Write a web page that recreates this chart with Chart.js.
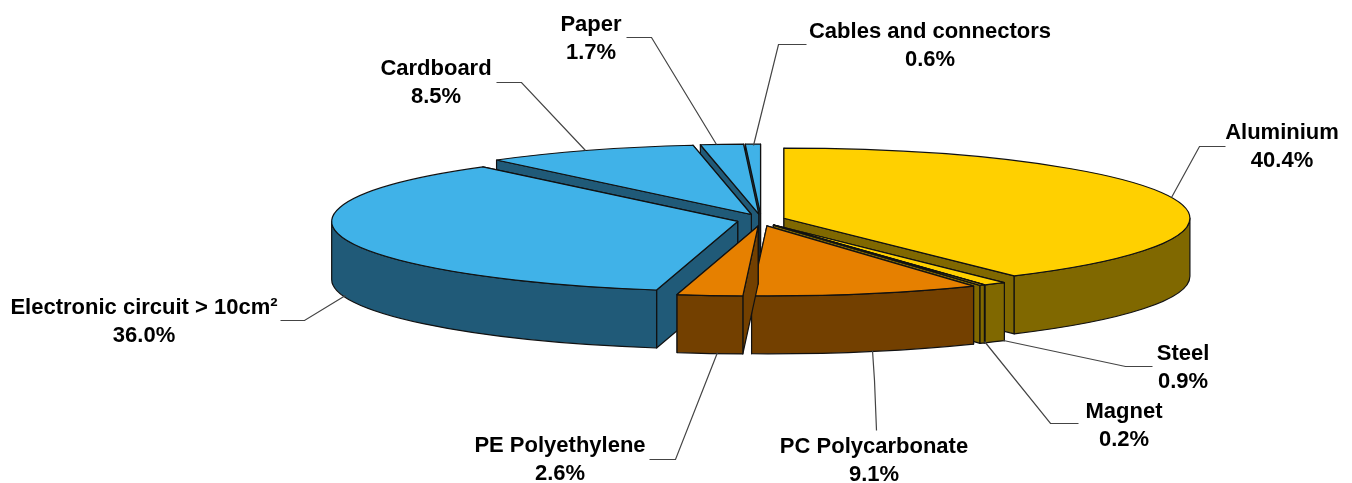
<!DOCTYPE html>
<html>
<head>
<meta charset="utf-8">
<title>Material shares</title>
<script src="https://cdn.jsdelivr.net/npm/chart.js@4/dist/chart.umd.js"></script>
<style>
  html,body{margin:0;padding:0;background:#fff;overflow:hidden}
  canvas{display:block}
</style>
</head>
<body>
<canvas id="pie" width="1352" height="483"></canvas>
<script>
// Data (clockwise from 12 o'clock)
const categories=['Aluminium','Steel','Magnet','PC Polycarbonate','PE Polyethylene','Electronic circuit > 10cm²','Cardboard','Paper','Cables and connectors'];
const shares=[40.4,0.9,0.2,9.1,2.6,36.0,8.5,1.7,0.6];

// Colours
const Y='#ffd000',Y2='#806800',O='#e68000',O2='#734000',B='#40b2e8',B2='#205a78';
const topColors=[Y,Y,Y,O,O,B,B,B,B];
const sideColors=[Y2,Y2,Y2,O2,O2,B2,B2,B2,B2];

// Fake 3D: where the pie ends up on the page
const PIE={cx:761,cy:220,rx:406,ry:70,depth:58,explodeX:24,explodeY:6};

// Label text centres and leader lines, same order as categories
const labelPos=[[1282,133],[1183,354],[1124,412],[874,447],[560,446],[144,308],[436,69],[591,25],[930,32]];
const leaders=[
  [[1225,146],[1199,146],[1171,197]],
  [[1152,366],[1125,366],[1003,340]],
  [[1078,423],[1050,423],[984,341]],
  [[876,430],[874,380],[872,350]],
  [[649,459],[675,459],[717,352]],
  [[280,320],[304,320],[345,295]],
  [[496,82],[521,82],[585,150]],
  [[626,37],[651,37],[716,144]],
  [[806,44],[778,44],[753,145]]
];

const pie3d={
  id:'pie3d',
  beforeDatasetsDraw(chart){
    const ctx=chart.ctx, arcs=chart.getDatasetMeta(0).data;
    const R=arcs[0].outerRadius, sx=PIE.rx/R, sy=PIE.ry/R;
    const mid=a=>(a.startAngle+a.endAngle)/2;

    // back slices first
    const order=arcs.map((a,i)=>i).sort((p,q)=>Math.sin(mid(arcs[p]))-Math.sin(mid(arcs[q])));

    order.forEach(i=>{
      const a=arcs[i];
      // not the arc's own offset option: ArcElement scales that by sweep, here all slices move the same
      const ax=PIE.cx+Math.cos(mid(a))*PIE.explodeX, ay=PIE.cy+Math.sin(mid(a))*PIE.explodeY;
      const rim=t=>[ax+PIE.rx*Math.cos(t),ay+PIE.ry*Math.sin(t)];
      const d=PIE.depth;
      ctx.save();
      ctx.lineWidth=1.2; ctx.strokeStyle='#111'; ctx.lineJoin='round';
      ctx.fillStyle=sideColors[i];

      // cut faces
      const face=t=>{
        const p=rim(t);
        ctx.beginPath();
        ctx.moveTo(ax,ay); ctx.lineTo(p[0],p[1]); ctx.lineTo(p[0],p[1]+d); ctx.lineTo(ax,ay+d);
        ctx.closePath(); ctx.fill(); ctx.stroke();
      };
      [a.startAngle,a.endAngle].sort((p,q)=>Math.sin(p)-Math.sin(q)).forEach(face);

      // outer wall, only the part that looks at the viewer
      [[0,Math.PI],[2*Math.PI,3*Math.PI]].forEach(w=>{
        const s=Math.max(a.startAngle,w[0]), e=Math.min(a.endAngle,w[1]);
        if(e<=s) return;
        ctx.beginPath();
        ctx.ellipse(ax,ay,PIE.rx,PIE.ry,0,s,e);
        ctx.ellipse(ax,ay+d,PIE.rx,PIE.ry,0,e,s,true);
        ctx.closePath(); ctx.fill(); ctx.stroke();
      });

      // top face: the library's own arc, squashed
      ctx.save();
      ctx.translate(ax,ay); ctx.scale(sx,sy); ctx.translate(-a.x,-a.y);
      a.draw(ctx);
      ctx.restore();
      const p=rim(a.startAngle);
      ctx.beginPath();
      ctx.moveTo(ax,ay); ctx.lineTo(p[0],p[1]);
      ctx.ellipse(ax,ay,PIE.rx,PIE.ry,0,a.startAngle,a.endAngle);
      ctx.closePath(); ctx.stroke();
      ctx.restore();
    });
    return false;
  },
  afterDraw(chart){
    const ctx=chart.ctx;
    ctx.save();
    ctx.strokeStyle='#444'; ctx.lineWidth=1.2;
    leaders.forEach(l=>{
      ctx.beginPath();
      l.forEach((p,j)=>j?ctx.lineTo(p[0]+.5,p[1]+.5):ctx.moveTo(p[0]+.5,p[1]+.5));
      ctx.stroke();
    });
    ctx.fillStyle='#000'; ctx.font='bold 22px "Liberation Sans"';
    ctx.textAlign='center'; ctx.textBaseline='middle';
    categories.forEach((c,i)=>{
      const [x,y]=labelPos[i];
      ctx.fillText(c,x,y);
      ctx.fillText(shares[i].toFixed(1)+'%',x,y+28);
    });
    ctx.restore();
  }
};

new Chart(document.getElementById('pie').getContext('2d'),{
  type:'pie',
  data:{labels:categories,datasets:[{data:shares,backgroundColor:topColors,borderWidth:0,hoverOffset:0}]},
  options:{
    responsive:false,animation:false,
    layout:{padding:0},
    plugins:{legend:{display:false},tooltip:{enabled:false}},
    events:[]
  },
  plugins:[pie3d]
});
</script>
</body>
</html>
